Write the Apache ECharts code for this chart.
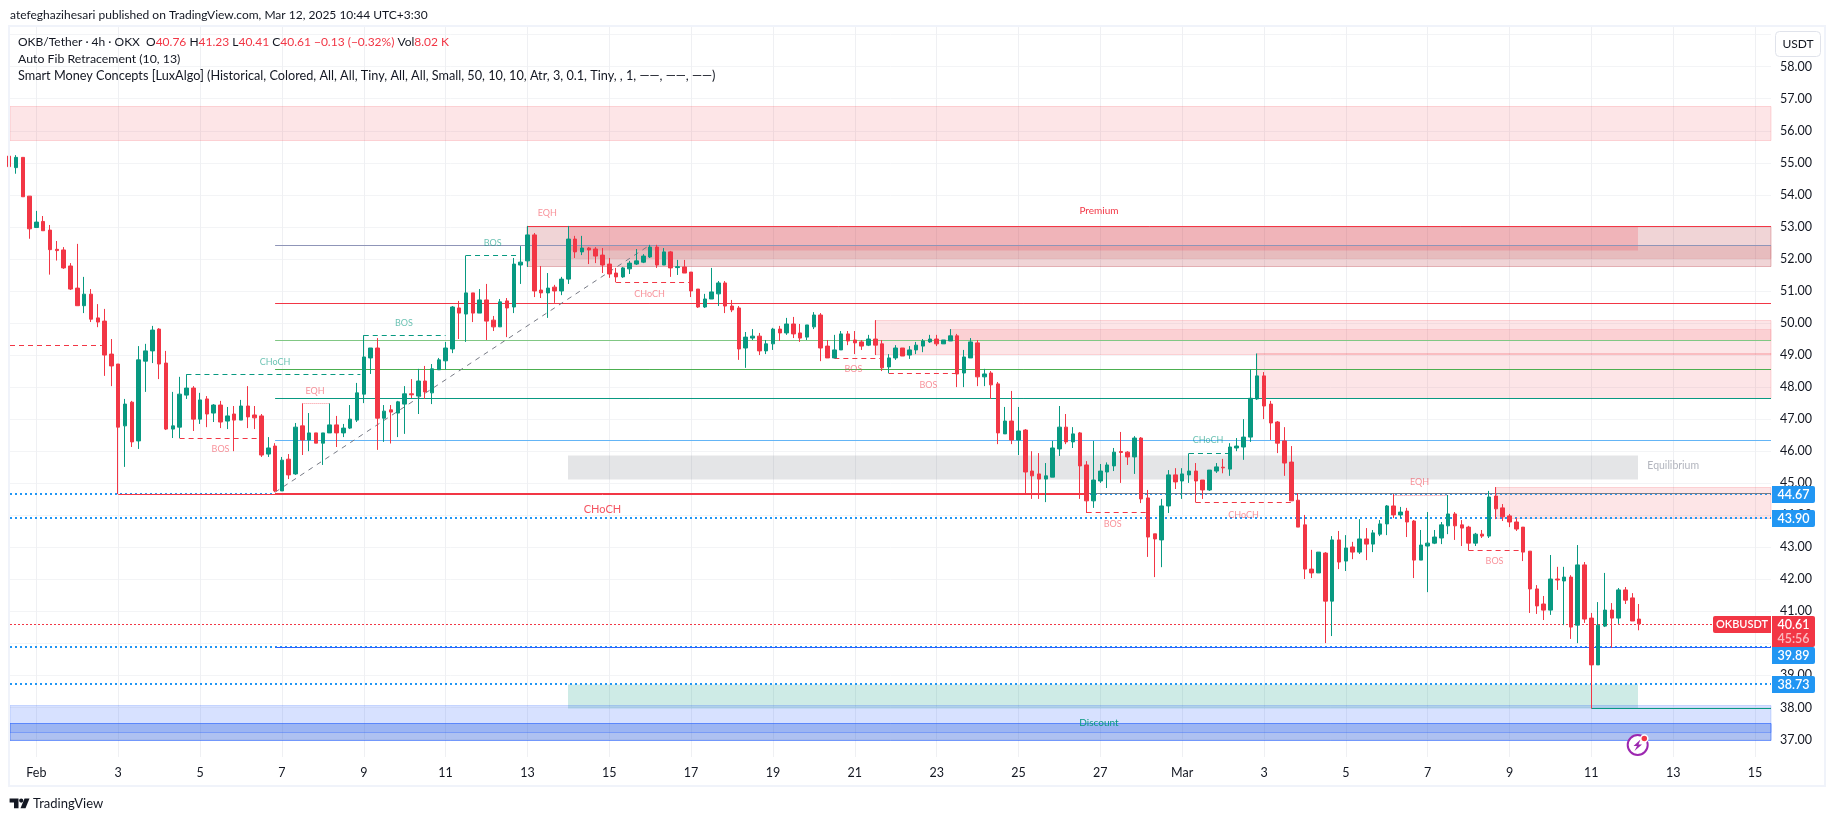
<!DOCTYPE html>
<html>
<head>
<meta charset="utf-8">
<title>OKBUSDT 4h</title>
<style>
  html, body { margin: 0; padding: 0; background: #fff; }
  #chart { width: 1835px; height: 821px; }
</style>
<script src="https://cdn.jsdelivr.net/npm/echarts@6/dist/echarts.min.js"></script>
</head>
<body>
<div id="chart"></div>
<script>
// 4h candles, first one is 4 bars before Feb 1
const opens = [
  55.21,54.85,55.17,53.96,52.98,53.17,52.90,52.30,52.28,51.78,
  51.09,50.54,50.90,50.16,50.06,49.03,48.72,46.79,47.53,46.32,
  48.81,49.13,49.81,48.75,46.69,46.75,47.75,47.97,47.00,47.63,
  47.19,47.44,46.94,47.16,46.97,47.41,47.13,47.10,45.91,46.16,
  44.76,45.75,45.29,46.79,46.35,46.57,46.25,46.57,46.82,46.57,
  46.72,46.97,47.78,48.91,49.22,47.03,47.29,47.19,47.47,47.79,
  47.72,48.19,47.82,48.54,48.82,49.19,50.47,50.28,50.94,50.31,
  50.72,50.09,49.88,50.69,50.50,51.81,51.94,52.75,51.03,50.94,
  51.12,51.00,51.37,52.62,52.22,52.34,52.31,52.12,51.84,51.56,
  51.44,51.69,51.84,51.90,52.06,52.37,51.81,52.22,51.73,51.75,
  51.59,51.06,50.50,50.75,50.91,51.25,50.53,50.47,49.22,49.53,
  49.59,49.13,49.35,49.81,49.69,49.97,49.69,49.56,49.88,50.25,
  49.28,48.91,49.16,49.66,49.47,49.41,49.31,49.50,49.35,48.63,
  48.91,49.22,49.00,49.16,49.28,49.41,49.50,49.35,49.44,49.60,
  48.44,48.91,49.38,48.32,48.44,48.10,46.54,46.94,46.35,46.66,
  45.38,45.29,45.13,45.19,46.07,46.75,46.29,46.57,45.57,44.45,
  45.07,45.35,45.54,45.99,45.97,45.82,46.41,44.54,43.42,43.23,
  44.29,45.26,45.07,45.26,45.38,45.10,44.79,45.38,45.50,45.44,
  46.10,46.13,46.44,47.63,48.35,47.47,46.91,46.32,45.66,44.47,
  43.70,42.32,42.20,42.82,41.32,43.23,42.57,43.01,42.85,43.26,
  43.10,43.41,43.73,44.29,44.01,44.13,43.82,42.60,43.04,43.13,
  43.29,43.67,44.04,43.70,43.63,43.13,43.41,43.35,44.60,44.23,
  43.98,43.79,43.63,42.88,41.70,41.23,41.04,42.01,41.95,42.07,
  40.57,42.45,40.79,39.33,40.54,41.04,40.79,41.67,41.42,40.76
]
const highs = [
  55.21,55.24,55.17,53.96,53.50,53.34,53.06,52.56,52.37,51.87,
  52.47,51.44,51.06,50.59,50.44,49.50,48.72,47.63,47.57,49.28,
  49.35,49.91,49.84,49.13,47.85,48.32,48.40,48.03,47.82,47.72,
  47.47,47.57,47.38,47.41,47.60,48.03,47.41,47.16,46.44,46.25,
  45.82,45.91,46.88,47.49,47.19,46.57,46.57,47.49,47.10,46.85,
  47.44,48.13,49.62,49.22,49.53,47.44,47.44,47.57,48.03,48.25,
  48.57,48.66,48.72,48.91,49.41,50.53,50.69,52.11,50.94,51.06,
  51.22,50.22,50.75,50.78,52.03,52.40,53.03,52.81,51.78,51.56,
  51.19,51.44,53.03,52.72,52.72,52.37,52.37,52.34,52.03,51.72,
  51.75,51.94,52.31,52.15,52.44,52.44,52.34,52.25,51.97,51.97,
  51.59,51.06,50.91,51.72,51.31,51.31,50.72,50.53,49.72,49.81,
  49.69,49.47,49.85,49.91,50.16,50.19,49.97,49.94,50.34,50.31,
  49.47,49.63,49.75,49.75,49.75,49.47,49.63,50.09,49.47,49.03,
  49.31,49.22,49.28,49.41,49.50,49.63,49.63,49.47,49.81,49.66,
  49.16,49.53,49.47,48.57,48.50,48.16,47.38,47.88,47.38,46.69,
  46.00,45.94,45.63,46.32,47.41,47.16,46.75,46.60,45.69,46.32,
  45.60,45.65,46.10,46.60,46.00,46.47,46.44,44.79,43.42,44.51,
  45.41,45.47,45.47,45.93,45.63,45.10,45.41,45.63,45.76,46.25,
  46.41,47.00,48.55,49.05,48.47,47.57,46.94,46.75,46.16,44.69,
  44.01,42.92,42.85,42.85,43.35,43.51,43.38,43.17,43.88,43.60,
  43.54,43.85,44.32,44.66,44.26,44.23,43.85,43.54,44.10,43.54,
  43.79,44.63,44.10,43.85,43.67,43.45,43.54,44.76,44.88,44.35,
  44.04,43.91,43.63,42.88,41.82,41.48,42.76,42.39,42.39,42.13,
  43.07,42.54,40.95,41.29,42.20,41.26,41.73,41.76,41.57,41.23
]
const lows = [
  54.88,54.66,53.94,52.63,52.98,52.88,51.51,51.95,51.69,51.03,
  50.54,50.31,50.03,49.87,48.35,48.03,44.66,45.51,46.13,46.07,
  47.85,48.75,48.25,46.66,46.41,46.41,47.63,46.63,46.85,46.75,
  46.91,46.72,46.69,46.00,46.97,46.72,46.69,45.82,45.82,44.72,
  44.76,45.13,45.26,45.88,46.00,46.25,45.57,46.57,46.13,46.44,
  46.69,46.91,47.50,48.41,46.04,46.29,46.24,46.44,46.54,47.66,
  47.16,47.63,47.47,48.54,48.55,49.06,49.50,49.41,50.03,50.31,
  49.47,49.75,49.88,49.56,50.31,51.22,51.75,50.81,50.78,50.16,
  50.63,50.87,51.22,52.03,52.12,51.84,51.87,51.56,51.41,51.27,
  51.41,51.53,51.81,51.87,52.03,51.72,51.81,51.44,51.50,51.56,
  50.81,50.47,50.47,50.75,50.53,50.31,50.34,48.85,48.60,49.47,
  49.00,49.03,49.16,49.44,49.63,49.53,49.41,49.47,49.81,48.81,
  48.91,48.91,49.16,49.31,49.03,49.16,49.28,49.00,48.50,48.43,
  48.85,48.97,48.88,49.03,49.09,49.38,49.28,49.35,49.44,48.00,
  48.00,48.91,48.03,48.03,47.63,46.22,46.54,46.22,45.88,44.69,
  44.51,44.51,44.41,45.19,45.85,46.22,46.10,44.51,44.07,44.23,
  45.01,44.85,45.38,45.01,45.57,45.29,44.38,42.70,42.07,42.38,
  44.07,44.82,44.51,45.01,44.40,44.51,44.76,45.32,45.31,45.23,
  46.00,45.73,46.29,47.60,47.00,46.35,45.94,45.23,44.45,43.63,
  42.01,42.04,42.20,40.01,40.23,42.32,42.26,42.63,42.79,42.60,
  42.85,43.35,43.38,43.91,43.91,43.32,42.04,42.60,41.60,43.10,
  43.10,43.41,43.23,43.04,42.90,43.04,43.29,43.29,43.88,43.82,
  43.63,43.51,42.57,40.95,40.92,40.73,40.89,41.67,40.57,40.14,
  40.01,40.64,37.97,39.33,40.51,39.86,40.61,41.23,40.70,40.41
]
const closes = [
  54.88,55.17,53.94,52.94,53.15,52.88,52.29,52.26,51.72,51.06,
  50.54,50.90,50.12,50.03,49.00,48.66,46.75,47.47,46.29,48.85,
  49.13,49.78,48.72,46.69,46.79,47.78,47.97,47.00,47.60,47.16,
  47.44,46.91,47.10,46.97,47.41,47.07,47.04,45.88,46.10,44.76,
  45.72,45.26,46.75,46.35,46.57,46.25,46.57,46.82,46.57,46.72,
  47.00,47.82,48.94,49.22,47.03,47.25,47.22,47.54,47.79,47.76,
  48.19,47.85,48.57,48.85,49.22,50.50,50.31,50.94,50.31,50.72,
  50.06,49.88,50.66,50.47,51.84,51.90,52.75,51.00,50.94,51.09,
  51.00,51.37,52.62,52.22,52.34,52.28,52.09,51.81,51.53,51.44,
  51.72,51.87,51.94,52.09,52.37,51.81,52.22,51.72,51.76,51.56,
  51.00,50.50,50.75,50.97,51.25,50.53,50.41,49.19,49.56,49.59,
  49.13,49.35,49.81,49.69,49.97,49.66,49.53,49.94,50.25,49.22,
  48.91,49.16,49.66,49.44,49.38,49.28,49.50,49.31,48.60,48.91,
  49.22,48.97,49.16,49.31,49.44,49.50,49.35,49.47,49.60,48.41,
  48.94,49.41,48.32,48.41,48.07,46.57,46.94,46.35,46.63,45.35,
  45.23,45.13,45.23,46.10,46.75,46.29,46.54,45.54,44.45,45.10,
  45.38,45.57,45.97,45.96,45.82,46.41,44.51,43.32,43.26,44.29,
  45.26,45.04,45.29,45.38,45.07,44.79,45.41,45.51,45.48,46.13,
  46.16,46.44,47.65,48.35,47.41,46.88,46.25,45.63,44.45,43.63,
  42.32,42.20,42.85,41.32,43.23,42.54,42.98,42.85,43.26,43.10,
  43.45,43.73,44.29,44.01,44.10,43.79,42.60,43.07,43.13,43.32,
  43.70,44.04,43.67,43.60,43.13,43.41,43.35,44.57,44.20,43.95,
  43.79,43.57,42.85,41.70,41.17,41.04,42.01,41.98,42.07,40.51,
  42.45,40.76,39.33,40.57,41.04,40.79,41.67,41.35,40.70,40.61
]
const firstBar = -4

// axes
const xMin = -3.871
const xMax = 254.34
const yMin = 36.455
const yMax = 59.239
const xTickBars = [0,12,24,36,48,60,72,84,96,108,120,132,144,156,168,180,192,204,216,228,240,252]
const xTickLabels = ['Feb','3','5','7','9','11','13','15','17','19','21','23','25','27','Mar','3','5','7','9','11','13','15']
const yTicks = [37,38,39,40,41,42,43,44,45,46,47,48,49,50,51,52,53,54,55,56,57,58,59]
const yLabels = [37,38,39,40,41,42,43,44,45,46,47,48,49,50,51,52,53,54,55,56,57,58]

// zones: [from bar, to bar, top price, bottom price]
const supplyZones = [[xMin,xMax,56.77,55.70],[123,xMax,50.09,49.03],[179,xMax,49.05,47.65],[214,xMax,44.87,43.92]]
const supplyInner = [[134,xMax,49.80,49.46]]
const bearBlocks = [[72,xMax,53.02,51.78]]
const bearInner = [[78,xMax,52.42,52.04]]
const premiumZone = [[78,234.8,53.02,52.28]]
const equilibriumZone = [[78,234.8,45.88,45.14]]
const discountZone = [[78,234.8,38.73,37.97]]
const demandOuter = [[xMin,xMax,38.07,37.00]]
const demandInner = [[xMin,xMax,37.52,37.00]]
const demandCore = [[xMin,xMax,37.52,37.25]]

// fib levels and structure lines: [from bar, to bar, price]
const fibGrey = [[35,xMax,44.68]]
const fib786 = [[35,xMax,52.43]]
const fibRed = [[35,xMax,50.61],[72,xMax,53.02],[35,154,44.69]]
const fibLightGreen = [[35,xMax,49.46]]
const fibGreen = [[35,xMax,48.55]]
const fibTeal = [[35,xMax,47.65],[228,xMax,37.97]]
const fibBlue = [[35,xMax,46.34]]
const fibNavy = [[35,xMax,39.88]]
const chochLine = [[12,154,44.66]]
const levelDots = [[xMin,xMax,44.67],[xMin,xMax,43.90],[xMin,xMax,39.89],[xMin,xMax,38.73]]
const lastPriceLine = [[xMin,xMax,40.61]]
const redDashes = [[xMin,9.6,49.30],[21,33,46.40],[85,96,51.27],[117,124,48.90],[125,135,48.43],[154,163,44.09],[170,184,44.40],[210,218,42.91]]
const greenDashes = [[22,47.5,48.40],[48,60,49.62],[63,71,52.11],[169,175,45.93]]
const eqhDots = [[39,43,47.49],[72,78,53.03],[199,207,44.64]]
const trendBars = [35,90]
const trendPrices = [44.72,52.44]

// small notes: [bar, price, text]
const greenNotes = [[35,48.77,'CHoCH'],[53.9,49.99,'BOS'],[66.9,52.49,'BOS'],[171.8,46.34,'CHoCH']]
const redNotes = [[40.85,47.89,'EQH'],[27,46.06,'BOS'],[74.9,53.42,'EQH'],[89.9,50.89,'CHoCH'],[119.8,48.55,'BOS'],[130.8,48.06,'BOS'],[157.8,43.72,'BOS'],[177,44.02,'CHoCH'],[202.8,45.03,'EQH'],[213.8,42.56,'BOS']]
const bigNotes = [[83,44.19,'CHoCH']]
const premiumNote = [[155.8,53.51,'Premium']]
const discountNote = [[155.8,37.52,'Discount']]
const equilibriumNote = [[240,45.54,'Equilibrium']]

const levelTags = [44.67,43.90,39.89,38.73]
const lastPrice = [40.61]
const countdown = '45:56'
const symbolTag = 'OKBUSDT'

const uiFont = 'Lato, "Noto Sans", sans-serif'
const axisFont = 'Lato, "Noto Sans", sans-serif'
const inkColor = '#131722'
const upColor = '#089981'
const downColor = '#f23645'

function zoneSeries(rows, fill, stroke, z) {
  return {
    type: 'custom', coordinateSystem: 'cartesian2d', silent: true, z: z,
    encode: { x: [0, 1], y: [2, 3] },
    data: rows,
    renderItem(params, api) {
      const a = api.coord([api.value(0), api.value(2)])
      const b = api.coord([api.value(1), api.value(3)])
      const x = Math.round(a[0]), y = Math.round(a[1]) + 0.5
      return {
        type: 'rect',
        shape: { x: x, y: y, width: Math.round(b[0]) - x, height: Math.round(b[1]) + 0.5 - y },
        style: { fill: fill, stroke: stroke, lineWidth: 1 }
      }
    }
  }
}

function segmentSeries(rows, color, width, dash, z) {
  return {
    type: 'custom', coordinateSystem: 'cartesian2d', silent: true, z: z,
    encode: { x: [0, 1], y: 2 },
    data: rows,
    renderItem(params, api) {
      const a = api.coord([api.value(0), api.value(2)])
      const b = api.coord([api.value(1), api.value(2)])
      const y = Math.round(a[1]) + (width % 2 ? 0.5 : 0)
      return {
        type: 'line',
        shape: { x1: a[0], y1: y, x2: b[0], y2: y },
        style: { stroke: color, lineWidth: width, lineDash: dash || null, fill: null }
      }
    }
  }
}

function noteSeries(rows, color, size) {
  return {
    type: 'custom', coordinateSystem: 'cartesian2d', silent: true, z: 6,
    encode: { x: 0, y: 1 },
    data: rows,
    renderItem(params, api) {
      const p = api.coord([api.value(0), api.value(1)])
      return {
        type: 'text',
        style: { x: p[0], y: p[1], text: rows[params.dataIndex][2], fill: color, font: size + 'px ' + uiFont, align: 'center', verticalAlign: 'middle' }
      }
    }
  }
}

function tagSeries() {
  return {
    type: 'custom', coordinateSystem: 'cartesian2d', silent: true, z: 8,
    encode: { y: 0 },
    data: levelTags.map(v => [v]),
    renderItem(params, api) {
      const p = api.coord([xMax, api.value(0)])
      const lastY = Math.round(api.coord([xMax, lastPrice[0]])[1])
      let y = Math.round(p[1])
      // a tag that would sit under the last price box slides below it
      if (y > lastY && y - 8 < lastY + 23) y = lastY + 31
      return {
        type: 'group',
        children: [
          { type: 'rect', shape: { x: 1772, y: y - 8, width: 43, height: 17, r: [0, 2, 2, 0] }, style: { fill: '#2196f3' } },
          { type: 'text', style: { x: 1793.5, y: y + 0.5, text: api.value(0).toFixed(2), fill: '#fff', font: '600 12.5px ' + axisFont, align: 'center', verticalAlign: 'middle' } }
        ]
      }
    }
  }
}

function lastPriceSeries() {
  return {
    type: 'custom', coordinateSystem: 'cartesian2d', silent: true, z: 7,
    encode: { y: 0 },
    data: lastPrice.map(v => [v]),
    renderItem(params, api) {
      const p = api.coord([xMax, api.value(0)])
      const y = Math.round(p[1])
      return {
        type: 'group',
        children: [
          { type: 'rect', shape: { x: 1713, y: y - 8, width: 58, height: 17, r: [2, 0, 0, 2] }, style: { fill: downColor } },
          { type: 'text', style: { x: 1742, y: y + 0.5, text: symbolTag, fill: '#fff', font: '600 11px ' + uiFont, align: 'center', verticalAlign: 'middle' } },
          { type: 'rect', shape: { x: 1772, y: y - 8, width: 43, height: 31, r: [0, 2, 2, 0] }, style: { fill: downColor } },
          { type: 'text', style: { x: 1793.5, y: y + 0.5, text: api.value(0).toFixed(2), fill: '#fff', font: '600 12.5px ' + axisFont, align: 'center', verticalAlign: 'middle' } },
          { type: 'text', style: { x: 1793.5, y: y + 14.5, text: countdown, fill: 'rgba(255,255,255,.65)', font: '600 12.5px ' + axisFont, align: 'center', verticalAlign: 'middle' } }
        ]
      }
    }
  }
}

const chart = echarts.init(document.getElementById('chart'), null, { renderer: 'canvas' })

chart.setOption({
  animation: false,
  backgroundColor: '#fff',
  grid: { left: 10, top: 27, width: 1761, height: 730 },
  xAxis: {
    type: 'value', min: xMin, max: xMax,
    axisLine: { show: false },
    axisTick: { show: false, customValues: xTickBars },
    splitLine: { show: true, lineStyle: { color: '#eff0f3', width: 1 } },
    axisLabel: {
      customValues: xTickBars, margin: 9, color: inkColor, fontFamily: axisFont, fontSize: 12.5,
      hideOverlap: false,
      formatter: v => xTickLabels[xTickBars.indexOf(v)]
    }
  },
  yAxis: {
    type: 'value', position: 'right', min: yMin, max: yMax,
    axisLine: { show: false },
    axisTick: { show: false, customValues: yTicks },
    splitLine: { show: true, lineStyle: { color: '#f3f4f6', width: 1 } },
    axisLabel: {
      customValues: yLabels, margin: 9, color: inkColor, fontFamily: axisFont, fontSize: 12.5, align: 'left',
      formatter: v => v.toFixed(2)
    }
  },
  series: [
    zoneSeries(supplyZones, 'rgba(242,54,69,.13)', 'rgba(242,54,69,.18)', 1),
    zoneSeries(supplyInner, 'rgba(242,54,69,.12)', 'rgba(242,54,69,.12)', 1),
    zoneSeries(bearBlocks, 'rgba(178,40,51,.2)', 'rgba(178,40,51,.3)', 1),
    zoneSeries(bearInner, 'rgba(178,40,51,.14)', 'rgba(178,40,51,.1)', 1),
    zoneSeries(premiumZone, 'rgba(242,54,69,.2)', null, 1),
    zoneSeries(equilibriumZone, 'rgba(120,123,134,.2)', null, 1),
    zoneSeries(discountZone, 'rgba(8,153,129,.2)', null, 1),
    zoneSeries(demandOuter, 'rgba(41,98,255,.19)', 'rgba(41,98,255,.2)', 1),
    zoneSeries(demandInner, 'rgba(30,80,190,.22)', 'rgba(41,98,255,.45)', 1),
    zoneSeries(demandCore, 'rgba(41,98,255,.13)', 'rgba(41,98,255,.35)', 1),
    segmentSeries(levelDots, '#2196f3', 2, [2, 3], 2),
    segmentSeries(fibGrey, '#787b86', 1, null, 2),
    segmentSeries(fib786, '#8f95b8', 1, null, 2),
    segmentSeries(fibRed, downColor, 1, null, 2),
    segmentSeries(fibLightGreen, '#81c784', 1, null, 2),
    segmentSeries(fibGreen, '#4caf50', 1, null, 2),
    segmentSeries(fibTeal, upColor, 1, null, 2),
    segmentSeries(fibBlue, '#64b5f6', 1, null, 2),
    segmentSeries(fibNavy, '#2962ff', 1, null, 2),
    segmentSeries(chochLine, downColor, 1, null, 2),
    segmentSeries(lastPriceLine, downColor, 1, [2, 2], 2),
    segmentSeries(redDashes, downColor, 1, [5, 4], 2),
    segmentSeries(greenDashes, upColor, 1, [5, 4], 2),
    segmentSeries(eqhDots, 'rgba(242,54,69,.55)', 1, [1, 1], 2),
    {
      type: 'line', silent: true, z: 2, showSymbol: false,
      data: trendBars.map((b, i) => [b, trendPrices[i]]),
      lineStyle: { color: '#787b86', width: 1, type: [5, 5] }
    },
    {
      type: 'candlestick', silent: true, z: 4, barWidth: 4,
      data: opens.map((o, i) => [i + firstBar, o, closes[i], lows[i], highs[i]]),
      itemStyle: {
        color: upColor, color0: downColor,
        borderColor: upColor, borderColor0: downColor, borderColorDoji: downColor, borderWidth: 1
      }
    },
    noteSeries(greenNotes, 'rgba(8,153,129,.6)', 9),
    noteSeries(redNotes, 'rgba(242,54,69,.55)', 9),
    noteSeries(bigNotes, 'rgba(242,54,69,.85)', 11),
    noteSeries(premiumNote, downColor, 10),
    noteSeries(discountNote, upColor, 10),
    noteSeries(equilibriumNote, '#b2b5be', 10.5),
    lastPriceSeries(),
    tagSeries()
  ],
  graphic: { elements: [
    // outer frame
    { type: 'rect', z: 10, silent: true, shape: { x: 9, y: 26, width: 1816, height: 760 }, style: { fill: null, stroke: '#f0f3fa', lineWidth: 2 } },
    { type: 'text', z: 10, x: 10, y: 15, style: { text: 'atefeghazihesari published on TradingView.com, Mar 12, 2025 10:44 UTC+3:30', fill: inkColor, font: '12px ' + uiFont, verticalAlign: 'middle' } },
    {
      type: 'text', z: 10, x: 18, y: 42,
      style: {
        text: '{k|OKB/Tether · 4h · OKX  O}{r|40.76}{k| H}{r|41.23}{k| L}{r|40.41}{k| C}{r|40.61}{r| −0.13 (−0.32%)}{k| Vol}{r|8.02 K}',
        verticalAlign: 'middle',
        rich: {
          k: { fill: inkColor, font: '12px ' + uiFont },
          r: { fill: downColor, font: '12px ' + uiFont }
        }
      }
    },
    { type: 'text', z: 10, x: 18, y: 59, style: { text: 'Auto Fib Retracement (10, 13)', fill: inkColor, font: '12.3px ' + uiFont, verticalAlign: 'middle' } },
    { type: 'text', z: 10, x: 18, y: 76, style: { text: 'Smart Money Concepts [LuxAlgo] (Historical, Colored, All, All, Tiny, All, All, Small, 50, 10, 10, Atr, 3, 0.1, Tiny, , 1, ——, ——, ——)', fill: inkColor, font: '12.7px ' + uiFont, verticalAlign: 'middle' } },
    // currency button
    { type: 'rect', z: 10, silent: true, shape: { x: 1775.5, y: 31.5, width: 45, height: 25, r: 4 }, style: { fill: '#fff', stroke: '#e0e3eb', lineWidth: 1 } },
    { type: 'text', z: 11, x: 1798, y: 44.5, style: { text: 'USDT', fill: inkColor, font: '12px ' + axisFont, align: 'center', verticalAlign: 'middle' } },
    // flash icon
    { type: 'circle', z: 10, silent: true, shape: { cx: 1637.7, cy: 745, r: 10 }, style: { fill: '#fff', stroke: '#9c27b0', lineWidth: 2 } },
    { type: 'polygon', z: 11, silent: true, shape: { points: [[1640.5,739.5],[1633.5,746],[1637,746],[1634.5,751],[1642,744.5],[1638.5,744.5]] }, style: { fill: '#9c27b0' } },
    { type: 'circle', z: 12, silent: true, shape: { cx: 1644.3, cy: 738.5, r: 3.5 }, style: { fill: '#f23645', stroke: '#fff', lineWidth: 1.5 } },
    // TradingView mark
    { type: 'polygon', z: 10, silent: true, shape: { points: [[9.6,798.5],[18.5,798.5],[18.5,808.3],[14,808.3],[14,802.5],[9.6,802.5]] }, style: { fill: inkColor } },
    { type: 'circle', z: 10, silent: true, shape: { cx: 21.2, cy: 800.6, r: 2.1 }, style: { fill: inkColor } },
    { type: 'polygon', z: 10, silent: true, shape: { points: [[24.5,798.5],[29.5,798.5],[25.5,808.3],[20.5,808.3]] }, style: { fill: inkColor } },
    { type: 'text', z: 10, x: 33, y: 803.5, style: { text: 'TradingView', fill: inkColor, font: '13px ' + uiFont, verticalAlign: 'middle' } }
  ] }
})
</script>
</body>
</html>
